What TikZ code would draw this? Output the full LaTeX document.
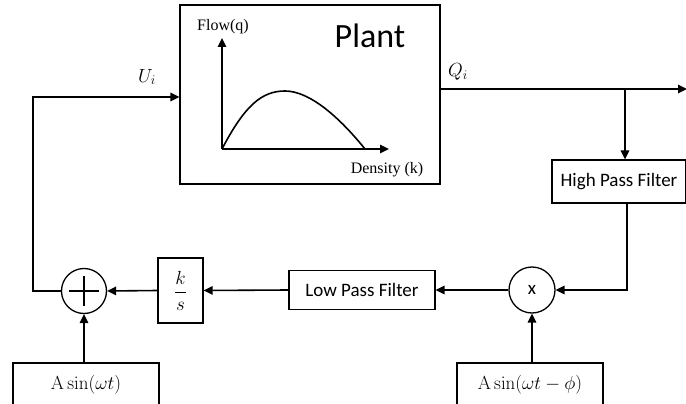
\RequirePackage{fix-cm}
\documentclass[tikz,border=0pt]{standalone}
\usepackage{amsmath}
\usepackage[no-math]{fontspec}
\setmainfont{Carlito}
\newfontfamily\tnr{Liberation Serif}
\usetikzlibrary{arrows.meta}
\begin{document}
\begin{tikzpicture}[x=1pt,y=-1pt,
  every path/.style={line width=1.6pt},
  conn/.style={-{Triangle[length=9pt,width=8.5pt]}},
  blk/.style={draw,line width=1.3pt,inner sep=0pt,font=\fontsize{19}{22}\selectfont},
  mth/.style={font=\fontsize{19}{22}\selectfont},
  junc/.style={draw,circle,line width=1.3pt,inner sep=0pt,minimum size=46pt}]
\useasboundingbox (0,0) rectangle (686,404);
% plant
\node[blk,minimum width=260pt,minimum height=179pt] (plant) at (310,94.5) {};
\node[font=\fontsize{34}{38}\selectfont] (plabel) at (370,36) {Plant};
\coordinate (org) at (222,149);
\coordinate (ytop) at (222,38);
\coordinate (xend) at (389,149);
\draw[conn] (org) -- (ytop);
\draw[conn] (org) -- (xend);
\draw (org) .. controls (245,105) and (262,91) .. (285,91) .. controls (310,91) and (340,118) .. (365,149);
\node[font=\tnr\fontsize{16}{18}\selectfont] (flow) at (223,27) {Flow(q)};
\node[font=\tnr\fontsize{16}{18}\selectfont] (dens) at (387,170) {Density (k)};
% output
\coordinate (qend) at (687,89);
\coordinate (br) at (625,89);
\draw[conn] (plant.east |- qend) -- (qend);
\node[mth] (qi) at (458,72) {$Q_i$};
% HPF
\node[blk,minimum width=134pt,minimum height=43pt] (hpf) at (619,181.5) {High Pass Filter};
\draw[conn] (br) -- (br |- hpf.north);
% multiplier
\node[junc] (mul) at (532,290) {};
\node[mth] (xl) at (532,290) {x};
\coordinate (hpo) at (627,204);
\draw[conn] (hpo) |- (mul.east);
% LPF
\node[blk,minimum width=146pt,minimum height=39pt] (lpf) at (362,290) {Low Pass Filter};
\draw[conn] (mul.west) -- (lpf.east);
% k/s
\node[blk,minimum width=45pt,minimum height=65pt] (ks) at (180.5,290.5) {};
\node[mth] (ksl) at (180.5,290.5) {$\dfrac{k}{s}$};
\draw[conn] (lpf.west) -- (ks.east);
% sum
\node[junc,minimum size=45pt] (sum) at (84,291) {};
\draw[line width=1.3pt] (sum.center) ++(-15,0) -- ++(30,0);
\draw[line width=1.3pt] (sum.center) ++(0,-15) -- ++(0,30);
\draw[conn] (ks.west) -- (sum.east);
% feedback to plant
\coordinate (ul) at (33,97);
\draw[conn] (sum.west) -| (ul) -- (ul -| plant.west);
\node[mth] (ui) at (147,77) {$U_i$};
% sine sources
\node[blk,minimum width=146pt,minimum height=44pt] (s1) at (86,385) {$\mathrm{A}\sin(\omega t)$};
\draw[conn] (s1.north -| sum.south) -- (sum.south);
\node[blk,minimum width=146pt,minimum height=44pt] (s2) at (530,385) {$\mathrm{A}\sin(\omega t-\phi)$};
\draw[conn] (s2.north -| mul.south) -- (mul.south);
\end{tikzpicture}
\end{document}
